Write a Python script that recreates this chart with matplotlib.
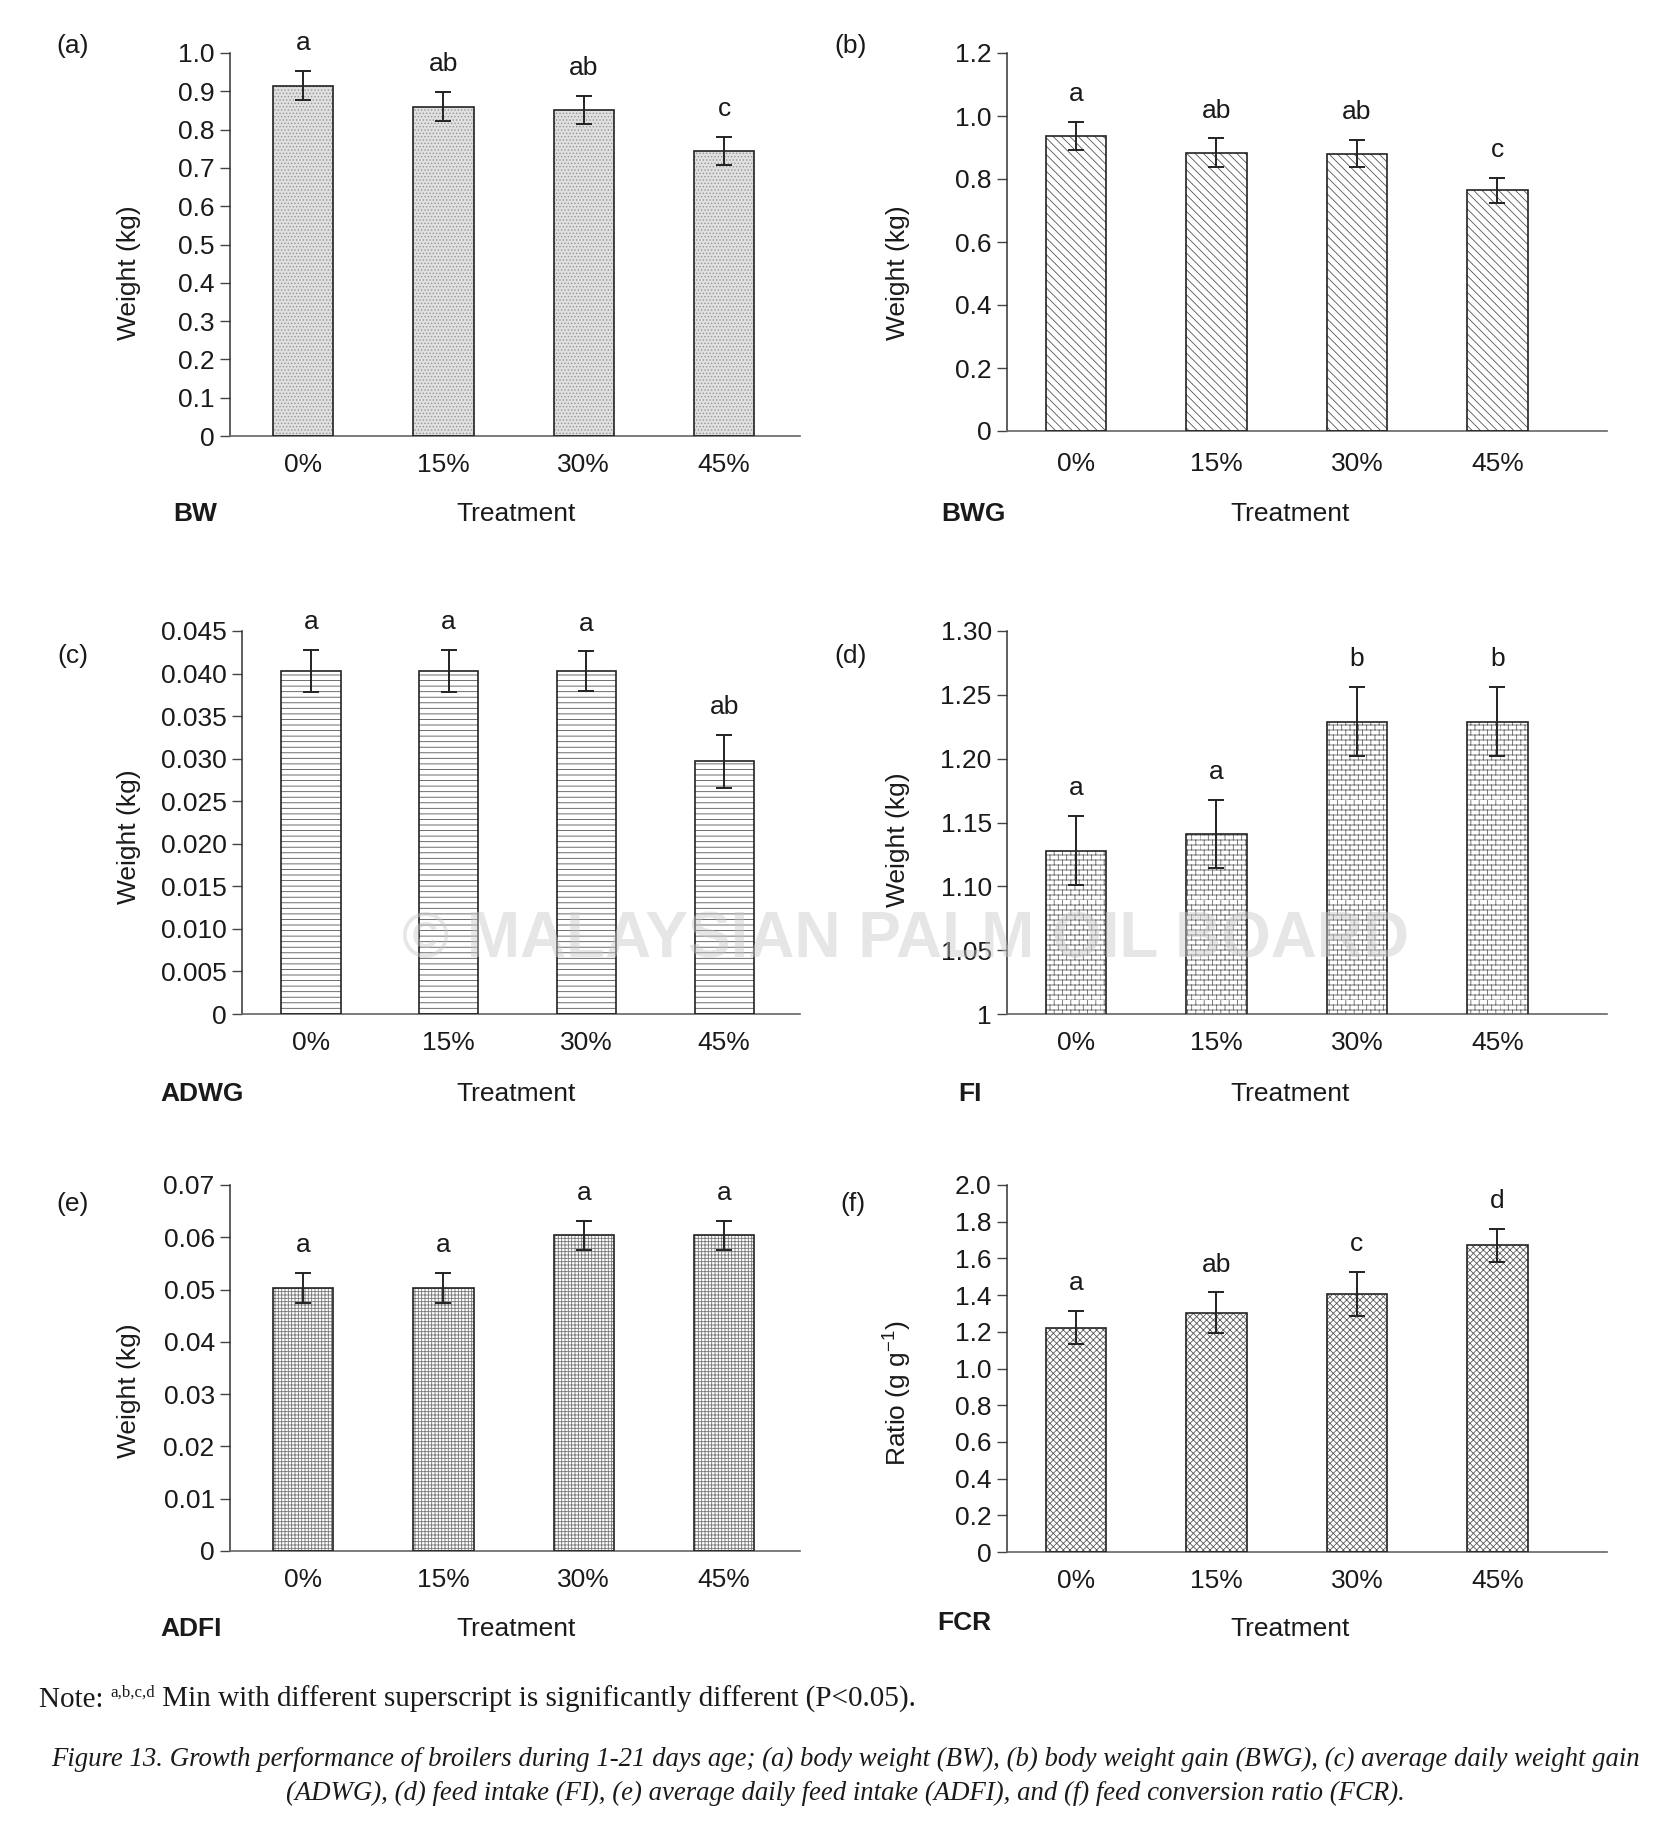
import warnings
import numpy as np
import matplotlib
matplotlib.use("Agg")
import matplotlib.pyplot as plt
import matplotlib.hatch as mhatch
from matplotlib.path import Path

warnings.filterwarnings("ignore")

# ---------------- data ----------------
treatments = ["0%", "15%", "30%", "45%"]

bw_mean = [0.915, 0.860, 0.851, 0.744]
bw_err = [0.038, 0.038, 0.037, 0.037]
bw_letters = ["a", "ab", "ab", "c"]
bw_yticks = ["0", "0.1", "0.2", "0.3", "0.4", "0.5", "0.6", "0.7", "0.8", "0.9", "1.0"]

bwg_mean = [0.937, 0.884, 0.880, 0.764]
bwg_err = [0.045, 0.045, 0.043, 0.040]
bwg_letters = ["a", "ab", "ab", "c"]
bwg_yticks = ["0", "0.2", "0.4", "0.6", "0.8", "1.0", "1.2"]

adwg_mean = [0.0403, 0.0403, 0.0403, 0.0297]
adwg_err = [0.0025, 0.0025, 0.0023, 0.0031]
adwg_letters = ["a", "a", "a", "ab"]
adwg_yticks = ["0", "0.005", "0.010", "0.015", "0.020", "0.025", "0.030",
               "0.035", "0.040", "0.045"]

fi_mean = [1.128, 1.141, 1.229, 1.229]
fi_err = [0.027, 0.027, 0.027, 0.027]
fi_letters = ["a", "a", "b", "b"]
fi_yticks = ["1", "1.05", "1.10", "1.15", "1.20", "1.25", "1.30"]

adfi_mean = [0.0503, 0.0503, 0.0604, 0.0604]
adfi_err = [0.0029, 0.0029, 0.0028, 0.0028]
adfi_letters = ["a", "a", "a", "a"]
adfi_yticks = ["0", "0.01", "0.02", "0.03", "0.04", "0.05", "0.06", "0.07"]

fcr_mean = [1.222, 1.305, 1.405, 1.672]
fcr_err = [0.09, 0.11, 0.12, 0.09]
fcr_letters = ["a", "ab", "c", "d"]
fcr_yticks = ["0", "0.2", "0.4", "0.6", "0.8", "1.0", "1.2", "1.4", "1.6", "1.8", "2.0"]

panel_tags = ["(a)", "(b)", "(c)", "(d)", "(e)", "(f)"]
panel_names = ["BW", "BWG", "ADWG", "FI", "ADFI", "FCR"]
ylabels = ["Weight (kg)", "Weight (kg)", "Weight (kg)", "Weight (kg)",
           "Weight (kg)", r"Ratio (g g$^{\mathregular{-1}}$)"]
xlabel = "Treatment"

note_prefix = "Note:"
note_sup = "a,b,c,d"
note_rest = " Min with different superscript is significantly different (P<0.05)."
caption_1 = ("Figure 13. Growth performance of broilers during 1-21 days age; (a) body weight (BW), "
             "(b) body weight gain (BWG), (c) average daily weight gain")
caption_2 = ("(ADWG), (d) feed intake (FI), (e) average daily feed intake (ADFI), "
             "and (f) feed conversion ratio (FCR).")
watermark = "\u00a9 MALAYSIAN PALM OIL BOARD"


# ---------------- custom brick hatch ----------------
class BrickHatch(mhatch.HatchPatternBase):
    def __init__(self, hatch, density):
        n = hatch.count("B")
        self.rows = 20 * n
        self.cols = 12 * n
        self.num_vertices = (self.rows + self.rows * self.cols) * 2 if n else 0

    def set_vertices_and_codes(self, vertices, codes):
        R, C = self.rows, self.cols
        h, w = 1.0 / R, 1.0 / C
        pts = []
        for r in range(R):
            y = r * h
            pts += [(0.0, y), (1.0, y)]
        for r in range(R):
            y0, y1 = r * h, r * h + h
            off = 0.0 if r % 2 == 0 else w / 2
            for c in range(C):
                xx = c * w + off
                pts += [(xx, y0), (xx, y1)]
        vertices[:] = np.array(pts)
        codes[0::2] = Path.MOVETO
        codes[1::2] = Path.LINETO


mhatch._hatch_types.append(BrickHatch)

# ---------------- style ----------------
plt.rcParams["font.family"] = ["Liberation Sans", "DejaVu Sans"]
plt.rcParams["mathtext.fontset"] = "custom"
plt.rcParams["mathtext.rm"] = "Liberation Sans"
plt.rcParams["mathtext.it"] = "Liberation Sans:italic"
plt.rcParams["mathtext.bf"] = "Liberation Sans:bold"
plt.rcParams["hatch.linewidth"] = 0.6

W, H = 1678, 1836
DPI = 100
fig = plt.figure(figsize=(W / DPI, H / DPI), dpi=DPI)
FS = 19
TXT = "#1a1a1a"


def fx(px):
    return px / W


def fy(py):
    return 1 - py / H


# axes boxes in pixel (left, top, right, bottom)
boxes = [(230, 53, 800, 436), (1007, 53, 1607, 431),
         (242, 631, 800, 1014), (1007, 631, 1607, 1014),
         (230, 1185, 800, 1551), (1007, 1185, 1607, 1552)]
xlims = [(-0.52, 3.54), (-0.49, 3.78), (-0.50, 3.55), (-0.49, 3.78),
         (-0.52, 3.54), (-0.49, 3.78)]
xpads = [12, 15, 12.5, 12.5, 12.5, 12.5]
styles = [
    dict(face="#e0e0e0", hatch=".....", hc="#959595"),
    dict(face="white", hatch="\\\\\\\\", hc="#555555"),
    dict(face="white", hatch="---", hc="#555555"),
    dict(face="white", hatch="B", hc="#666666"),
    dict(face="white", hatch="+++++", hc="#777777"),
    dict(face="white", hatch="xxxxx", hc="#5a5a5a"),
]
means = [bw_mean, bwg_mean, adwg_mean, fi_mean, adfi_mean, fcr_mean]
errs = [bw_err, bwg_err, adwg_err, fi_err, adfi_err, fcr_err]
letters = [bw_letters, bwg_letters, adwg_letters, fi_letters, adfi_letters, fcr_letters]
yticklabels = [bw_yticks, bwg_yticks, adwg_yticks, fi_yticks, adfi_yticks, fcr_yticks]

tag_pos = [(73, 46), (851, 46), (73, 656), (851, 656), (73, 1204), (853, 1204)]
ylab_pos = [(129, 273), (898, 273), (129, 837), (898, 840), (129, 1391), (898, 1393)]
treat_pos = [(516, 514), (1290, 514), (516, 1094), (1290, 1094), (516, 1629), (1290, 1629)]
name_pos = [(173, 514), (941, 514), (160, 1094), (958, 1094), (160, 1629), (937, 1623)]

x = np.arange(len(treatments))
BARW = 0.43

for i in range(6):
    l, t, r, b = boxes[i]
    ax = fig.add_axes([fx(l), fy(b), (r - l) / W, (b - t) / H])
    st = styles[i]
    m, e = means[i], errs[i]
    ax.bar(x, m, width=BARW, color=st["face"], hatch=st["hatch"],
           edgecolor=st["hc"], linewidth=0, zorder=2)
    ax.bar(x, m, width=BARW, fill=False, edgecolor="#222222", linewidth=1.2, zorder=3)
    ax.errorbar(x, m, yerr=e, fmt="none", ecolor="#222222", elinewidth=1.4,
                capsize=5.5, capthick=1.4, zorder=4)
    for xi, mi, ei, lt in zip(x, m, e, letters[i]):
        ax.annotate(lt, (xi, mi + ei), xytext=(0, 20), textcoords="offset points",
                    ha="center", va="center", fontsize=FS, color=TXT)
    yt = [float(s) for s in yticklabels[i]]
    ax.set_ylim(yt[0], yt[-1])
    ax.set_yticks(yt)
    ax.set_yticklabels(yticklabels[i])
    ax.set_xlim(*xlims[i])
    ax.set_xticks(x)
    ax.set_xticklabels(treatments)
    ax.tick_params(axis="y", direction="out", length=7, width=1.0, color="#444444",
                   pad=4, labelsize=FS, labelcolor=TXT)
    ax.tick_params(axis="x", length=0, pad=xpads[i], labelsize=FS, labelcolor=TXT)
    for s in ("top", "right"):
        ax.spines[s].set_visible(False)
    ax.spines["left"].set_color("#333333")
    ax.spines["left"].set_linewidth(1.1)
    ax.spines["bottom"].set_color("#666666")
    ax.spines["bottom"].set_linewidth(1.2)
    ax.patch.set_alpha(0)

    fig.text(fx(tag_pos[i][0]), fy(tag_pos[i][1]), panel_tags[i], ha="center",
             va="center", fontsize=FS, color=TXT)
    fig.text(fx(ylab_pos[i][0]), fy(ylab_pos[i][1]), ylabels[i], rotation=90,
             ha="center", va="center", fontsize=FS, color=TXT)
    fig.text(fx(treat_pos[i][0]), fy(treat_pos[i][1]), xlabel, ha="center",
             va="center", fontsize=FS, color=TXT)
    fig.text(fx(name_pos[i][0]), fy(name_pos[i][1]), panel_names[i], ha="left",
             va="center", fontsize=FS, fontweight="bold", color=TXT)

# watermark
fig.text(fx(906), fy(940), watermark, ha="center", va="center", fontsize=46,
         fontweight="bold", color="#c8c8c8", alpha=0.45, zorder=10)

# note with superscript
renderer = fig.canvas.get_renderer()
SERIF = ["Liberation Serif", "DejaVu Serif"]
NFS = 21
t1 = fig.text(fx(39), fy(1707), note_prefix + " ", ha="left", va="baseline",
              fontsize=NFS, family=SERIF, color=TXT)
bb = t1.get_window_extent(renderer)
t2 = fig.text(bb.x1 / W, fy(1707) + 10 / H, note_sup, ha="left", va="baseline",
              fontsize=NFS * 0.58, family=SERIF, color=TXT)
bb2 = t2.get_window_extent(renderer)
fig.text(bb2.x1 / W, fy(1707), note_rest, ha="left", va="baseline",
         fontsize=NFS, family=SERIF, color=TXT)

CFS = 19.3
fig.text(fx(845), fy(1766), caption_1, ha="center", va="baseline", fontsize=CFS,
         family=SERIF, style="italic", color=TXT)
fig.text(fx(845), fy(1800), caption_2, ha="center", va="baseline", fontsize=CFS,
         family=SERIF, style="italic", color=TXT)

fig.savefig("out.png", dpi=DPI)
